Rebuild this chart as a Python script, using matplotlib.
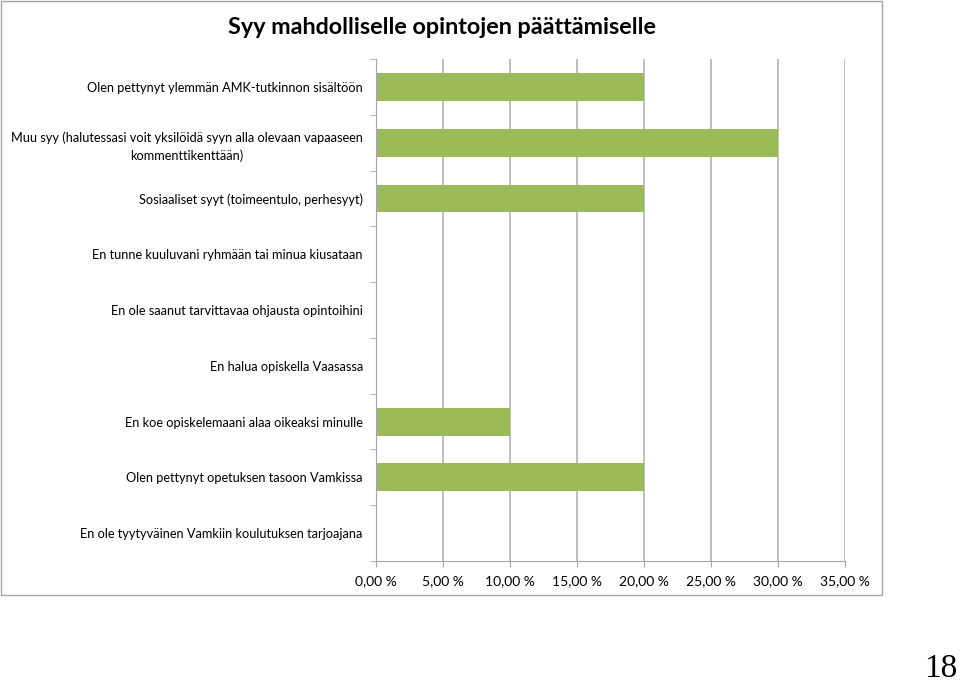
import matplotlib
matplotlib.use("Agg")
import matplotlib.pyplot as plt
from matplotlib.patches import Rectangle
from matplotlib.ticker import FixedLocator, FuncFormatter

# data (top to bottom as in the chart)
categories = [
    "Olen pettynyt ylemmän AMK-tutkinnon sisältöön",
    "Muu syy (halutessasi voit yksilöidä syyn alla olevaan vapaaseen\nkommenttikenttään)",
    "Sosiaaliset syyt (toimeentulo, perhesyyt)",
    "En tunne kuuluvani ryhmään tai minua kiusataan",
    "En ole saanut tarvittavaa ohjausta opintoihini",
    "En halua opiskella Vaasassa",
    "En koe opiskelemaani alaa oikeaksi minulle",
    "Olen pettynyt opetuksen tasoon Vamkissa",
    "En ole tyytyväinen Vamkiin koulutuksen tarjoajana",
]
values = [20, 30, 20, 0, 0, 0, 10, 20, 0]
xticks = [0, 5, 10, 15, 20, 25, 30, 35]

plt.rcParams['font.family'] = ['Lato', 'DejaVu Sans']

fig = plt.figure(figsize=(9.6, 6.85), dpi=100)
ax = fig.add_axes([376/960, 1-561/685, 469/960, 502/685])

pos = list(range(len(categories)))
ax.barh(pos, values, height=0.5, color='#9BBB59')
ax.set_ylim(len(categories)-0.5, -0.5)
ax.set_xlim(0, 35)

ax.set_yticks(pos)
ax.set_yticklabels(categories, fontsize=9.2, multialignment='center', linespacing=1.55)
ax.tick_params(axis='y', length=0, pad=9.5)
ax.yaxis.set_minor_locator(FixedLocator([p - 0.5 for p in pos] + [len(pos)-0.5]))
ax.tick_params(axis='y', which='minor', length=4, color='#A6A6A6')

ax.set_xticks(xticks)
ax.xaxis.set_major_formatter(FuncFormatter(lambda v, p: ('%.2f %%' % v).replace('.', ',')))
ax.tick_params(axis='x', length=4, color='#A6A6A6', labelsize=10, pad=6)
ax.grid(axis='x', color='#B3B3B3', linewidth=1.2)
ax.set_axisbelow(True)

for s in ['top', 'right']:
    ax.spines[s].set_visible(False)
for s in ['left', 'bottom']:
    ax.spines[s].set_color('#A6A6A6')

fig.text(442/960, 1-27/685, "Syy mahdolliselle opintojen päättämiselle",
         ha='center', va='center', fontsize=16.8, fontweight='bold')

fig.patches.append(Rectangle((1/960, 1-595/685), 881/960, 594/685, transform=fig.transFigure,
                             fill=False, edgecolor='#A6A6A6', linewidth=1))

fig.text(957/960, 1/685, "18", ha='right', va='bottom', fontsize=24,
         family='Liberation Serif')

fig.savefig('out.png', dpi=100)
